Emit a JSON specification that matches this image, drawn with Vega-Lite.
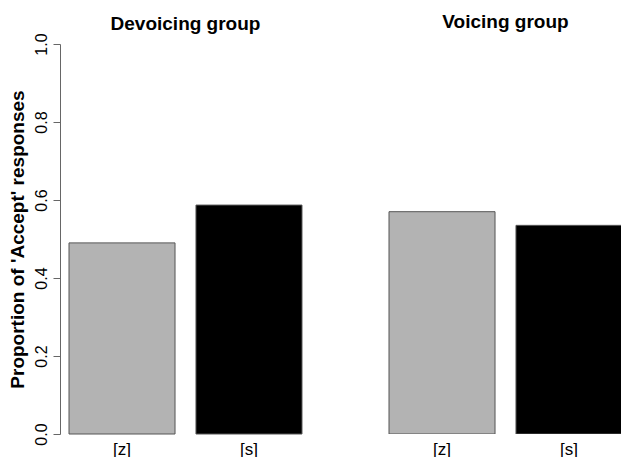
{
  "$schema": "https://vega.github.io/schema/vega-lite/v6.json",
  "padding": {"left": 8, "top": 13, "right": 0, "bottom": 0},
  "background": "white",
  "config": {
    "font": "Liberation Sans",
    "view": {"stroke": null},
    "concat": {"spacing": 69},
    "axis": {"labelColor": "black", "titleColor": "black", "labelFont": "Liberation Sans", "titleFont": "Liberation Sans"}
  },
  "datasets": {
    "d": [
      {"group": "Devoicing group", "sound": "[z]", "prop": 0.490},
      {"group": "Devoicing group", "sound": "[s]", "prop": 0.587},
      {"group": "Voicing group", "sound": "[z]", "prop": 0.570},
      {"group": "Voicing group", "sound": "[s]", "prop": 0.535}
    ]
  },
  "hconcat": [
    {
      "data": {"name": "d"},
      "transform": [{"filter": "datum.group == 'Devoicing group'"}],
      "width": 251,
      "height": 390,
      "title": {"text": "Devoicing group", "fontSize": 19, "fontWeight": "bold", "anchor": "middle", "offset": -1, "color": "black", "font": "Liberation Sans"},
      "mark": {"type": "bar", "stroke": "#555555", "strokeWidth": 1},
      "encoding": {
        "x": {
          "field": "sound", "type": "nominal", "sort": ["[z]", "[s]"],
          "scale": {"paddingInner": 0.165, "paddingOuter": 0.071},
          "axis": {"title": null, "labelAngle": 0, "domain": false, "ticks": false, "labelFontSize": 17, "labelPadding": 7}
        },
        "y": {
          "field": "prop", "type": "quantitative",
          "scale": {"domain": [0, 1], "nice": false},
          "axis": {
            "title": "Proportion of 'Accept' responses", "titleFontSize": 19, "titleFontWeight": "bold", "titlePadding": 6,
            "values": [0, 0.2, 0.4, 0.6, 0.8, 1], "format": ".1f", "grid": false,
            "domainColor": "#666666", "tickColor": "#666666", "tickSize": 7,
            "labelFontSize": 16, "labelAngle": -90, "labelAlign": "center", "labelBaseline": "bottom", "labelPadding": 4
          }
        },
        "color": {"field": "sound", "type": "nominal", "scale": {"domain": ["[z]", "[s]"], "range": ["#b3b3b3", "#000000"]}, "legend": null}
      }
    },
    {
      "data": {"name": "d"},
      "transform": [{"filter": "datum.group == 'Voicing group'"}],
      "width": 241,
      "height": 390,
      "title": {"text": "Voicing group", "fontSize": 19, "fontWeight": "bold", "anchor": "middle", "offset": 12, "color": "black", "dx": 5, "font": "Liberation Sans"},
      "mark": {"type": "bar", "stroke": "#555555", "strokeWidth": 1, "clip": true},
      "encoding": {
        "x": {
          "field": "sound", "type": "nominal", "sort": ["[z]", "[s]"],
          "scale": {"paddingInner": 0.165, "paddingOuter": 0.071, "range": [0, 251]},
          "axis": {"title": null, "labelAngle": 0, "domain": false, "ticks": false, "labelFontSize": 17, "labelPadding": 7}
        },
        "y": {
          "field": "prop", "type": "quantitative",
          "scale": {"domain": [0, 1], "nice": false},
          "axis": null
        },
        "color": {"field": "sound", "type": "nominal", "scale": {"domain": ["[z]", "[s]"], "range": ["#b3b3b3", "#000000"]}, "legend": null}
      }
    }
  ]
}
